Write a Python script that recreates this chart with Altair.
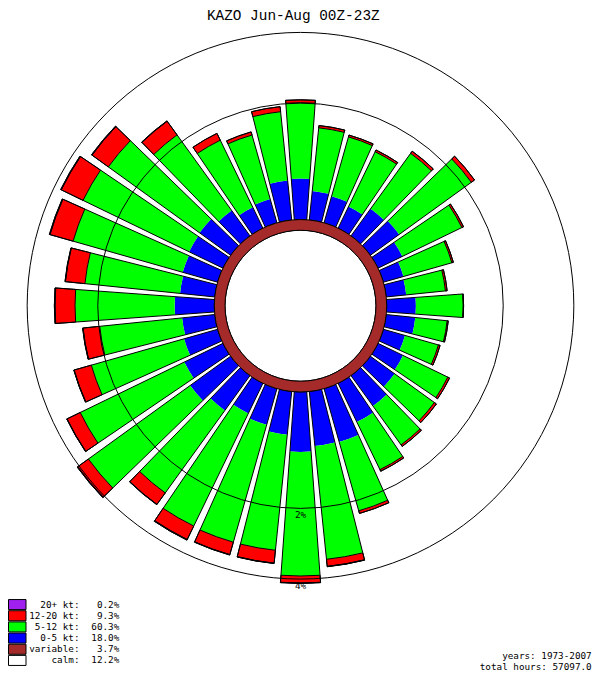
import math
import altair as alt
import pandas as pd

# ---------------- data ----------------
directions = [0, 10, 20, 30, 40, 50, 60, 70, 80, 90, 100, 110, 120, 130, 140, 150, 160, 170,
              180, 190, 200, 210, 220, 230, 240, 250, 260, 270, 280, 290, 300, 310, 320, 330, 340, 350]
# percent of hours per direction and speed class
kt_0_5 = [0.52, 0.35, 0.33, 0.28, 0.41, 0.44, 0.32, 0.24, 0.23, 0.35, 0.35, 0.26, 0.33, 0.36, 0.47, 0.55, 0.75, 0.74,
          0.83, 0.56, 0.47, 0.41, 0.55, 0.66, 0.55, 0.43, 0.40, 0.50, 0.43, 0.45, 0.47, 0.48, 0.38, 0.27, 0.29, 0.50]
kt_5_12 = [1.49, 1.11, 1.06, 1.02, 1.25, 1.76, 1.15, 0.79, 0.59, 0.78, 0.50, 0.52, 0.82, 0.82, 0.84, 0.98, 1.51, 2.68,
           3.07, 2.59, 2.68, 2.71, 2.18, 2.97, 2.57, 1.94, 1.58, 2.08, 1.92, 2.43, 2.56, 2.42, 1.82, 1.30, 1.14, 1.32]
kt_12_20 = [0.07, 0.05, 0.04, 0.04, 0.06, 0.10, 0.04, 0.03, 0.03, 0.01, 0.02, 0.03, 0.04, 0.05, 0.04, 0.04, 0.07, 0.22,
            0.23, 0.39, 0.39, 0.45, 0.40, 0.42, 0.44, 0.48, 0.42, 0.56, 0.53, 0.71, 0.73, 0.59, 0.44, 0.17, 0.07, 0.12]
kt_20_up = [0.00, 0.00, 0.00, 0.00, 0.00, 0.00, 0.00, 0.00, 0.00, 0.00, 0.00, 0.00, 0.00, 0.00, 0.00, 0.00, 0.00, 0.01,
            0.01, 0.01, 0.01, 0.02, 0.01, 0.02, 0.01, 0.01, 0.01, 0.02, 0.01, 0.02, 0.02, 0.02, 0.01, 0.00, 0.00, 0.00]

calm_pct = 12.2
variable_pct = 3.7

speed_classes = ["0-5 kt", "5-12 kt", "12-20 kt", "20+ kt"]
legend_keys = ["20+ kt", "12-20 kt", "5-12 kt", "0-5 kt", "variable", "calm"]
legend_labels = ["20+ kt:", "12-20 kt:", "5-12 kt:", "0-5 kt:", "variable:", "calm:"]
legend_values = ["0.2%", "9.3%", "60.3%", "18.0%", "3.7%", "12.2%"]
legend_colors = ["#a020f0", "#ff0000", "#00ff00", "#0000ff", "#a52a2a", "#ffffff"]

ring_levels = [2, 4]
ring_labels = ["2%", "4%"]

title_text = "KAZO Jun-Aug 00Z-23Z"
footer_lines = ["years: 1973-2007", "total hours: 57097.0"]

# ---------------- styling / geometry ----------------
W, H = 590, 664
CX, CY = 292.5, 297.75
K = 16820.0          # px^2 per percent per direction (equal-area rose)
HALF = 4.15          # half angular width of a bar, degrees
SMALL_FONT = "DejaVu Sans Mono"
SMALL_SIZE = 9.3

n_dir = len(directions)
base = (calm_pct + variable_pct) / n_dir

seg_rows, bar_rows = [], []
for i, d in enumerate(directions):
    cum = base
    for cls, vals in zip(speed_classes, [kt_0_5, kt_5_12, kt_12_20, kt_20_up]):
        v = vals[i]
        seg_rows.append(dict(dir=d, cls=cls, t0=d - HALF, t1=d + HALF, r0=cum, r1=cum + v))
        cum += v
    bar_rows.append(dict(dir=d, t0=d - HALF, t1=d + HALF, r0=base, r1=cum))
seg_df = pd.DataFrame(seg_rows)
bar_df = pd.DataFrame(bar_rows)

center_df = pd.DataFrame([
    dict(cls="calm", t0=0, t1=360, r0=0, r1=calm_pct / n_dir),
    dict(cls="variable", t0=0, t1=360, r0=calm_pct / n_dir, r1=base),
])
ring_df = pd.DataFrame(dict(label=ring_labels, v=[base + l for l in ring_levels],
                            t0=[0] * len(ring_levels), t1=[360] * len(ring_levels),
                            ang=[180] * len(ring_levels)))
leg_df = pd.DataFrame(dict(key=legend_keys, label=legend_labels, val=legend_values))

D = 5.0
theta_scale = alt.Scale(domain=[0, 360], range=[0, 2 * math.pi], nice=False, zero=False)
radius_scale = alt.Scale(type="sqrt", domain=[0, D], range=[0, math.sqrt(K * D)], nice=False, zero=True)
color_scale = alt.Scale(domain=legend_keys, range=legend_colors)
y_leg = alt.Scale(domain=legend_keys, range=[591, 658], paddingInner=0.1, paddingOuter=0.05)

pos = dict(x=alt.value(CX), y=alt.value(CY))


def arc_enc(r2=True):
    enc = dict(
        theta=alt.Theta("t0:Q", scale=theta_scale, stack=False),
        theta2=alt.Theta2("t1:Q"),
        radius=alt.Radius("r0:Q" if r2 else "v:Q", scale=radius_scale),
        **pos,
    )
    if r2:
        enc["radius2"] = alt.Radius2("r1:Q")
    return enc


low = alt.Chart(seg_df[seg_df.cls.isin(["0-5 kt", "5-12 kt"])]).mark_arc().encode(
    color=alt.Color("cls:N", scale=color_scale, legend=None), **arc_enc())
high = alt.Chart(seg_df[seg_df.cls.isin(["12-20 kt", "20+ kt"]) & (seg_df.r1 > seg_df.r0)]).mark_arc(
    stroke="black", strokeWidth=1).encode(
    color=alt.Color("cls:N", scale=color_scale, legend=None), **arc_enc())
outline = alt.Chart(bar_df).mark_arc(fill="white", fillOpacity=0, stroke="black", strokeWidth=1).encode(**arc_enc())
center = alt.Chart(center_df).mark_arc(stroke="black", strokeWidth=1).encode(
    color=alt.Color("cls:N", scale=color_scale, legend=None), **arc_enc())
rings = alt.Chart(ring_df).mark_arc(fill="white", fillOpacity=0, stroke="black", strokeWidth=1).encode(
    **arc_enc(r2=False))
ring_text = alt.Chart(ring_df).mark_text(
    radiusOffset=6.5, font=SMALL_FONT, fontSize=SMALL_SIZE, align="center", baseline="middle", color="black"
).encode(
    theta=alt.Theta("ang:Q", scale=theta_scale, stack=False),
    radius=alt.Radius("v:Q", scale=radius_scale),
    text="label:N", **pos)

title = alt.Chart(pd.DataFrame(dict(t=[title_text]))).mark_text(
    font="Liberation Mono", fontSize=14.4, align="center", baseline="alphabetic", color="black"
).encode(text="t:N", x=alt.value(285.3), y=alt.value(11.5))

leg_rect = alt.Chart(leg_df).mark_rect(stroke="black", strokeWidth=1).encode(
    x=alt.value(0.5), x2=alt.value(18),
    y=alt.Y("key:N", scale=y_leg, axis=None),
    color=alt.Color("key:N", scale=color_scale, legend=None))
leg_lab = alt.Chart(leg_df).mark_text(
    font=SMALL_FONT, fontSize=SMALL_SIZE, align="right", baseline="middle", color="black"
).encode(x=alt.value(71.5), y=alt.Y("key:N", scale=y_leg, axis=None), text="label:N")
leg_val = alt.Chart(leg_df).mark_text(
    font=SMALL_FONT, fontSize=SMALL_SIZE, align="right", baseline="middle", color="black"
).encode(x=alt.value(111.3), y=alt.Y("key:N", scale=y_leg, axis=None), text="val:N")

foot1 = alt.Chart(pd.DataFrame(dict(t=[footer_lines[0]]))).mark_text(
    font=SMALL_FONT, fontSize=SMALL_SIZE, align="right", baseline="middle", color="black"
).encode(text="t:N", x=alt.value(583.7), y=alt.value(647.5))
foot2 = alt.Chart(pd.DataFrame(dict(t=[footer_lines[1]]))).mark_text(
    font=SMALL_FONT, fontSize=SMALL_SIZE, align="right", baseline="middle", color="black"
).encode(text="t:N", x=alt.value(583.7), y=alt.value(658.5))

chart = alt.layer(
    low, high, outline, center, rings, ring_text, title, leg_rect, leg_lab, leg_val, foot1, foot2
).properties(
    width=W, height=H, autosize="none", padding=0, background="white"
).configure_view(stroke=None)

chart.save("out.html", embed_options={"renderer": "svg", "actions": False})
